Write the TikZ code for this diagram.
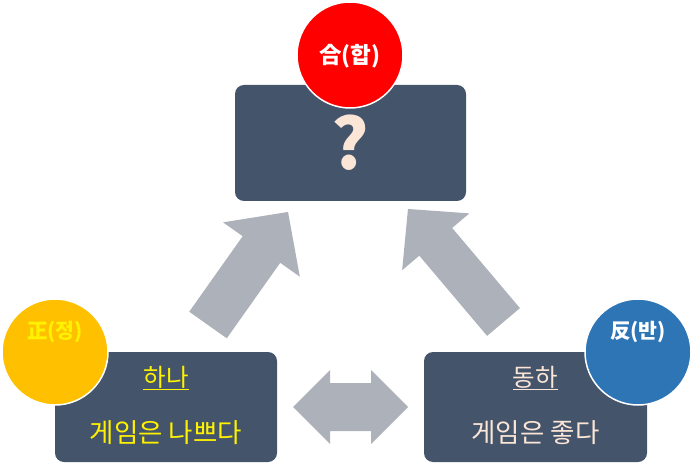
\documentclass[tikz,border=0pt]{standalone}
\usepackage{fontspec}
\newfontfamily\kr{Noto Sans CJK KR}
\definecolor{slatebox}{RGB}{68,84,106}
\definecolor{arrowgray}{RGB}{173,177,186}
\definecolor{peach}{RGB}{251,229,214}
\definecolor{thesisgold}{RGB}{255,192,0}
\definecolor{synthred}{RGB}{255,0,0}
\definecolor{antiblue}{RGB}{46,117,182}
\tikzset{
  block/.style={fill=slatebox, rounded corners=9pt, minimum width=222pt,
    minimum height=110pt, inner sep=0pt},
  badge/.style={circle, draw=white, line width=1.5pt, minimum size=106pt,
    inner sep=0pt},
  badgetext/.style={font=\kr\bfseries\fontsize{20.5}{24}\selectfont, inner sep=0pt},
  title/.style={font=\kr\fontsize{24.5}{28}\selectfont, inner sep=0pt},
  subtitle/.style={font=\kr\fontsize{26.5}{30}\selectfont, inner sep=0pt},
  fatarrow/.style={fill=arrowgray}
}

\begin{document}
\begin{tikzpicture}[x=1pt,y=1pt]
  \useasboundingbox (0,0) rectangle (700,474);

  % block arrows
  \coordinate (lefttail) at (208,149);
  \coordinate (righttail) at (503.5,152);
  \begin{scope}[shift={(lefttail)}, rotate=54.7]
    \fill[fatarrow] (0,-23) -- (92.5,-23) -- (92.5,-47) -- (138.5,0)
      -- (92.5,47) -- (92.5,23) -- (0,23) -- cycle;
  \end{scope}
  \begin{scope}[shift={(righttail)}, rotate=130.2]
    \fill[fatarrow] (0,-21.5) -- (105,-21.5) -- (105,-44) -- (148,0)
      -- (105,44) -- (105,21.5) -- (0,21.5) -- cycle;
  \end{scope}
  \fill[fatarrow] (293,67) -- (330,104) -- (330,91) -- (371,91) -- (371,104)
    -- (408,67) -- (371,30) -- (371,43) -- (330,43) -- (330,30) -- cycle;

  % boxes
  \node[block, minimum width=231pt, minimum height=116pt] (synth) at (350.5,331) {};
  \node[font=\kr\bfseries\fontsize{70}{80}\selectfont, text=peach, inner sep=0pt]
    (question) at (synth.center) {?};
  \node[block] (thesis) at (166,67) {};
  \node[block, minimum width=223pt] (anti) at (535.5,67) {};
  \node[title, text=yellow] (thesistitle) at ([yshift=29pt]thesis.center) {\underline{하나}};
  \node[subtitle, text=yellow] (thesisline) at ([yshift=-26pt]thesis.center) {게임은 나쁘다};
  \node[title, text=peach] (antititle) at ([yshift=29pt]anti.center) {\underline{동하}};
  \node[subtitle, text=peach] (antiline) at ([yshift=-26pt]anti.center) {게임은 좋다};

  % badges
  \node[badge, fill=synthred] (synthtag) at (350,419) {};
  \node[badgetext, text=white, font=\kr\bfseries\fontsize{22.5}{26}\selectfont]
    at ([yshift=-1pt]synthtag.center) {合(합)};
  \node[badge, fill=thesisgold] (thesistag) at (55,122) {};
  \node[badgetext, text=yellow] at ([yshift=20pt]thesistag.center) {正(정)};
  \node[badge, fill=antiblue] (antitag) at (638,122) {};
  \node[badgetext, text=white] at ([yshift=20pt]antitag.center) {反(반)};
\end{tikzpicture}
\end{document}
